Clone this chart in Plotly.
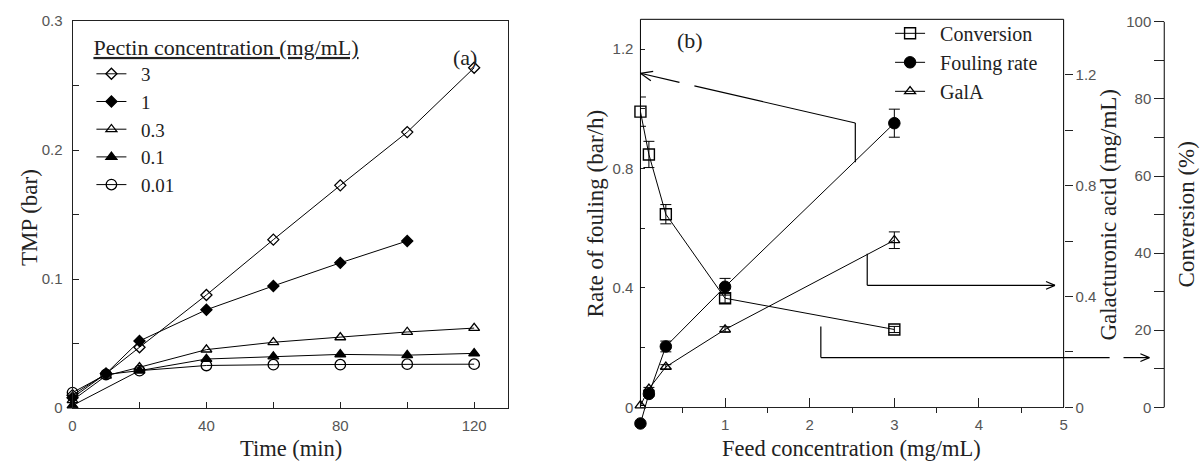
import math
import plotly.graph_objects as go

# ---------------- data: panel (a) ----------------
time_min = [0, 10, 20, 40, 60, 80, 100, 120]
time_1 = [0, 10, 20, 40, 60, 80, 100]
time_01 = [0, 20, 40, 60, 80, 100, 120]
tmp_3 = [0.010, 0.0267, 0.0471, 0.0877, 0.1306, 0.1727, 0.2140, 0.2639]
tmp_1 = [0.008, 0.0267, 0.0520, 0.0762, 0.0947, 0.1126, 0.1296]
tmp_03 = [0.006, 0.0250, 0.0316, 0.0453, 0.0510, 0.0548, 0.0590, 0.0620]
tmp_01 = [0.002, 0.0290, 0.0380, 0.0400, 0.0416, 0.0410, 0.0424]
tmp_001 = [0.012, 0.0260, 0.0290, 0.0330, 0.0336, 0.0336, 0.0340, 0.0340]
pectin_labels = ["3", "1", "0.3", "0.1", "0.01"]

# ---------------- data: panel (b) ----------------
feed_conc = [0, 0.1, 0.3, 1, 3]
conversion = [76.7, 65.6, 50.1, 28.3, 20.2]
conversion_err = [3.8, 3.4, 2.5, 1.2, 0.8]
fouling = [-0.054, 0.045, 0.204, 0.404, 0.952]
fouling_err = [0.0, 0.008, 0.018, 0.028, 0.047]
gala = [0.007, 0.067, 0.146, 0.281, 0.603]
gala_err = [0.0, 0.005, 0.008, 0.010, 0.030]
series_b_labels = ["Conversion", "Fouling rate", "GalA"]

W, H = 1204, 470


def px(x):
    return x / W


def py(y):
    return 1 - y / H


SERIF = "Liberation Serif, Times New Roman, serif"
SANS = "Liberation Sans, Arial, sans-serif"
TICKFONT = dict(family=SANS, size=15, color="#555555")
LINE = "#222222"
PAD = "\u00a0\u00a0"  # gap between legend symbol and label

# ---- panel (b) geometry in pixels ----
B_LEFT, B_RIGHT = 640.7, 1066.7
B_BOTTOM, B_TOP = 413.3, 10.7
EXT_BOTTOM = 445.0          # plotting area extended below zero (a value < 0 is plotted)
CONV_AXIS_X = 1168.0
FOUL_MAX, GALA_MAX, CONV_MAX = 1.3, 1.4, 100.65


def ext_low(top_value):
    scale = (B_BOTTOM - B_TOP) / top_value
    return -(EXT_BOTTOM - B_BOTTOM) / scale


fig = go.Figure()

# panel (a) traces
series_a = [
    (time_min, tmp_3, "diamond-open", 8.5),
    (time_1, tmp_1, "diamond", 8.5),
    (time_min, tmp_03, "triangle-up-open", 9.5),
    (time_01, tmp_01, "triangle-up", 9.5),
    (time_min, tmp_001, "circle-open", 10.5),
]
for (xs, ys, sym, size), lab in zip(series_a, pectin_labels):
    fig.add_trace(go.Scatter(
        x=xs, y=ys, name=PAD + lab, mode="lines+markers",
        line=dict(color="black", width=1),
        marker=dict(symbol=sym, size=size, color="black",
                    line=dict(color="black", width=1.3)),
        xaxis="x", yaxis="y", legend="legend", cliponaxis=False,
    ))

# panel (b) traces
fig.add_trace(go.Scatter(
    x=feed_conc, y=conversion, name=PAD + series_b_labels[0], mode="lines+markers",
    line=dict(color="black", width=1),
    marker=dict(symbol="square-open", size=11, color="black",
                line=dict(color="black", width=1.4)),
    error_y=dict(type="data", array=conversion_err, color="black",
                 thickness=1, width=5.5),
    xaxis="x2", yaxis="y4", legend="legend2", cliponaxis=False,
))
fig.add_trace(go.Scatter(
    x=feed_conc, y=fouling, name=PAD + series_b_labels[1], mode="lines+markers",
    line=dict(color="black", width=1),
    marker=dict(symbol="circle", size=11.5, color="black",
                line=dict(color="black", width=1)),
    error_y=dict(type="data", array=fouling_err, color="black",
                 thickness=1, width=5.5),
    xaxis="x2", yaxis="y2", legend="legend2", cliponaxis=False,
))
fig.add_trace(go.Scatter(
    x=feed_conc, y=gala, name=PAD + series_b_labels[2], mode="lines+markers",
    line=dict(color="black", width=1),
    marker=dict(symbol="triangle-up-open", size=9.5, color="black",
                line=dict(color="black", width=1.3)),
    error_y=dict(type="data", array=gala_err, color="black",
                 thickness=1, width=5.5),
    xaxis="x2", yaxis="y3", legend="legend2", cliponaxis=False,
))

axis_common = dict(showgrid=False, zeroline=False, tickfont=TICKFONT,
                   tickcolor=LINE, linecolor=LINE, linewidth=1)

# ---------------- frame lines & arrows (pixel -> paper) ----------------
shapes = []


def seg(x0, y0, x1, y1, w=1.2):
    shapes.append(dict(type="line", xref="paper", yref="paper",
                       x0=px(x0), y0=py(y0), x1=px(x1), y1=py(y1),
                       line=dict(color="black", width=w)))


def head(tx, ty, fx, fy, length, half):
    dx, dy = tx - fx, ty - fy
    n = math.hypot(dx, dy)
    dx, dy = dx / n, dy / n
    bx, by = tx - dx * length, ty - dy * length
    qx, qy = -dy, dx
    seg(tx, ty, bx + qx * half, by + qy * half)
    seg(tx, ty, bx - qx * half, by - qy * half)


# panel (b) frame (axis lines limited to the 0..max span)
seg(B_LEFT, B_BOTTOM, B_LEFT, B_TOP, 1)
seg(B_RIGHT, B_BOTTOM, B_RIGHT, B_TOP, 1)
seg(B_LEFT, B_TOP, B_RIGHT, B_TOP, 1)
seg(CONV_AXIS_X, B_BOTTOM, CONV_AXIS_X, 13.3, 1)

# arrow 1: fouling rate -> left axis
seg(857, 159, 857, 118.3)
seg(857, 118.3, 695, 79.8)
seg(680, 76.2, 640.7, 66.7)
head(640.7, 66.7, 695, 79.8, 12, 5)
# arrow 2: GalA -> galacturonic acid axis
seg(869, 254, 869, 286.7)
seg(869, 286.7, 1058, 286.7)
head(1058, 286.7, 1000, 286.7, 9, 4)
# arrow 3: conversion -> conversion axis
seg(822.3, 329.3, 822.3, 361.7)
seg(822.3, 361.7, 1113, 361.7)
seg(1127, 361.7, 1153, 361.7)
head(1153, 361.7, 1100, 361.7, 9, 4)

# ---------------- text annotations ----------------
annotations = []


def txt(x, y, s, angle=0, size=23):
    annotations.append(dict(xref="paper", yref="paper", x=px(x), y=py(y),
                            text=s, showarrow=False, textangle=angle,
                            xanchor="center", yanchor="middle",
                            font=dict(family=SERIF, size=size, color="#222222")))


txt(25, 216, "TMP (bar)", -90)
txt(289, 456, "Time (min)", size=22.5)
txt(464, 50, "(a)", size=22)
txt(595, 212, "Rate of fouling (bar/h)", -90)
txt(853, 456, "Feed concentration (mg/mL)", size=22.5)
txt(691, 33, "(b)", size=22)
txt(1111.7, 213, "Galacturonic acid (mg/mL)", -90)
txt(1190, 213, "Conversion (%)", -90)

fig.update_layout(
    width=W, height=H, autosize=False,
    margin=dict(l=0, r=0, t=0, b=0),
    paper_bgcolor="white", plot_bgcolor="rgba(0,0,0,0)",
    font=dict(family=SERIF, color="#222222"),
    xaxis=dict(domain=[px(69), px(507)], range=[0, 130], anchor="y",
               showline=True, mirror=True, ticks="inside", ticklen=6,
               tickvals=[0, 40, 80, 120], ticklabelstandoff=4,
               minor=dict(tickvals=[20, 60, 100], ticks="inside", ticklen=6,
                          tickcolor=LINE),
               **axis_common),
    yaxis=dict(domain=[py(414), py(12.7)], range=[0, 0.3], anchor="x",
               showline=True, mirror=True, ticks="inside", ticklen=6,
               tickvals=[0, 0.1, 0.2, 0.3], ticklabelstandoff=6,
               minor=dict(tickvals=[0.05, 0.15, 0.25], ticks="inside",
                          ticklen=6, tickcolor=LINE),
               **axis_common),
    xaxis2=dict(domain=[px(B_LEFT), px(B_RIGHT)], range=[0, 5],
                anchor="free", position=py(B_BOTTOM),
                showline=True, ticks="inside", ticklen=9,
                tickvals=[1, 2, 3, 4, 5], ticklabelstandoff=4,
                minor=dict(tickvals=[0.5, 1.5, 2.5, 3.5, 4.5], ticks="outside",
                           ticklen=5, tickcolor=LINE),
                **axis_common),
    yaxis2=dict(domain=[py(EXT_BOTTOM), py(B_TOP)],
                range=[ext_low(FOUL_MAX), FOUL_MAX], anchor="x2",
                showline=False, ticks="inside", ticklen=5,
                tickvals=[0, 0.4, 0.8, 1.2], ticklabelstandoff=6,
                minor=dict(tickvals=[0.2, 0.6, 1.0], ticks="inside", ticklen=5,
                           tickcolor=LINE),
                **axis_common),
    yaxis3=dict(overlaying="y2", side="right", anchor="x2",
                range=[ext_low(GALA_MAX), GALA_MAX], showline=False,
                ticks="outside", ticklen=8, tickvals=[0, 0.4, 0.8, 1.2],
                minor=dict(tickvals=[0.2, 0.6, 1.0], ticks="outside",
                           ticklen=8, tickcolor=LINE),
                **axis_common),
    yaxis4=dict(overlaying="y2", anchor="free", position=px(CONV_AXIS_X),
                side="left", range=[ext_low(CONV_MAX), CONV_MAX],
                showline=False, ticks="outside", ticklen=10,
                tickvals=[0, 20, 40, 60, 80, 100],
                minor=dict(tickvals=[10, 30, 50, 70, 90], ticks="outside",
                           ticklen=10, tickcolor=LINE),
                **axis_common),
    legend=dict(x=px(88), y=py(18), xanchor="left", yanchor="top",
                bgcolor="rgba(0,0,0,0)", borderwidth=0,
                font=dict(family=SERIF, size=19, color="#222222"),
                title=dict(text="<u>Pectin concentration (mg/mL)</u>",
                           font=dict(family=SERIF, size=22, color="#222222")),
                itemclick=False),
    legend2=dict(x=px(892), y=py(5), xanchor="left", yanchor="top",
                 bgcolor="rgba(0,0,0,0)", borderwidth=0,
                 font=dict(family=SERIF, size=20, color="#222222")),
    shapes=shapes,
    annotations=annotations,
    showlegend=True,
)

fig.write_html("out.html", config={"displayModeBar": False},
               post_script="document.body.style.margin='0';")
